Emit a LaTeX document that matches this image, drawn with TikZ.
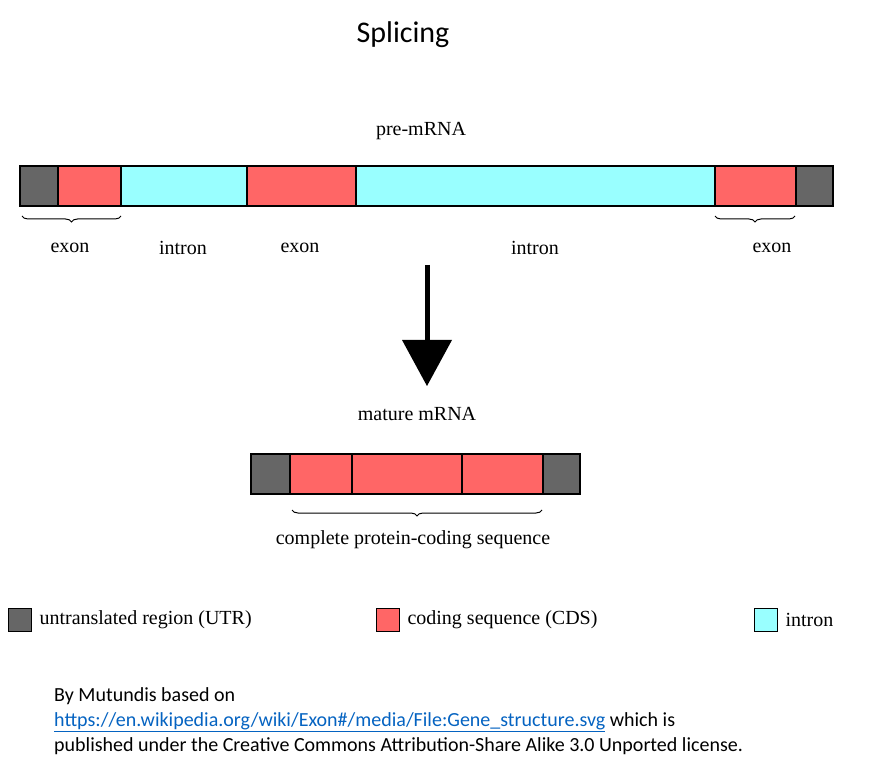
\documentclass[tikz,border=0pt]{standalone}
\usepackage{fontspec}
\setmainfont{Liberation Serif}
\newfontfamily\calib{Carlito}
\usetikzlibrary{decorations.pathreplacing}
\definecolor{utr}{HTML}{666666}
\definecolor{cds}{HTML}{FF6666}
\definecolor{intr}{HTML}{99FFFF}
\definecolor{lnk}{HTML}{0563C1}
\begin{document}
\begin{tikzpicture}[x=1pt,y=-1pt,
  seg/.style={draw=black,line width=2.2pt},
  lbl/.style={font=\fontsize{20}{22}\selectfont},
  brc/.style={decorate,decoration={brace,mirror,amplitude=6pt},line width=1pt},
  legbox/.style={draw=black,line width=1pt,minimum size=23pt,inner sep=0pt}]
\useasboundingbox (0,0) rectangle (878,783);
\node[font=\calib\fontsize{30}{34}\selectfont] (title) at (403,35) {Splicing};
\node[lbl] (pre) at (421,131) {pre-mRNA};
% pre-mRNA
\fill[utr] (20,166) rectangle (58,206);
\fill[cds] (58,166) rectangle (121,206);
\fill[intr] (121,166) rectangle (247,206);
\fill[cds] (247,166) rectangle (356,206);
\fill[intr] (356,166) rectangle (715,206);
\fill[cds] (715,166) rectangle (796,206);
\fill[utr] (796,166) rectangle (833,206);
\draw[seg] (20,166) rectangle (833,206);
\foreach \x in {58,121,247,356,715,796} \draw[seg] (\x,166) -- (\x,206);
\coordinate (b1a) at (22,216); \coordinate (b1b) at (121,216);
\coordinate (b2a) at (715,216); \coordinate (b2b) at (795,216);
\draw[brc] (b1a) -- (b1b);
\draw[brc] (b2a) -- (b2b);
\node[lbl] (e1) at (70,248) {exon};
\node[lbl] (i1) at (183,248) {intron};
\node[lbl] (e2) at (300,248) {exon};
\node[lbl] (i2) at (535,248) {intron};
\node[lbl] (e3) at (772,248) {exon};
% arrow
\coordinate (as) at (427,265); \coordinate (ah) at (427,340);
\draw[line width=5pt] (as) -- (ah);
\fill[black] (402,340) -- (452,340) -- (427,386) -- cycle;
\node[lbl] (mat) at (417,414) {mature mRNA};
% mature
\fill[utr] (251,454) rectangle (290,494);
\fill[cds] (290,454) rectangle (543,494);
\fill[utr] (543,454) rectangle (580,494);
\draw[seg] (251,454) rectangle (580,494);
\foreach \x in {290,352,462,543} \draw[seg] (\x,454) -- (\x,494);
\coordinate (b3a) at (292,510); \coordinate (b3b) at (542,510);
\draw[brc] (b3a) -- (b3b);
\node[lbl] (cps) at (413,540) {complete protein-coding sequence};
% legend
\node[legbox,fill=utr] (l1) at (20,620) {};
\node[lbl,anchor=west] (t1) at (36,620) {untranslated region (UTR)};
\node[legbox,fill=cds] (l2) at (388,620) {};
\node[lbl,anchor=west] (t2) at (404,620) {coding sequence (CDS)};
\node[legbox,fill=intr] (l3) at (766,620) {};
\node[lbl,anchor=west] (t3) at (782,620) {intron};
% credit
\node[anchor=north west,align=left,inner sep=0pt,font=\calib\fontsize{20}{25}\selectfont] (cred) at (54,687)
{By Mutundis based on\\
{\color{lnk}\underline{https://en.wikipedia.org/wiki/Exon\#/media/File:Gene\_structure.svg}} which is\\
published under the Creative Commons Attribution-Share Alike 3.0 Unported license.};
\end{tikzpicture}
\end{document}
